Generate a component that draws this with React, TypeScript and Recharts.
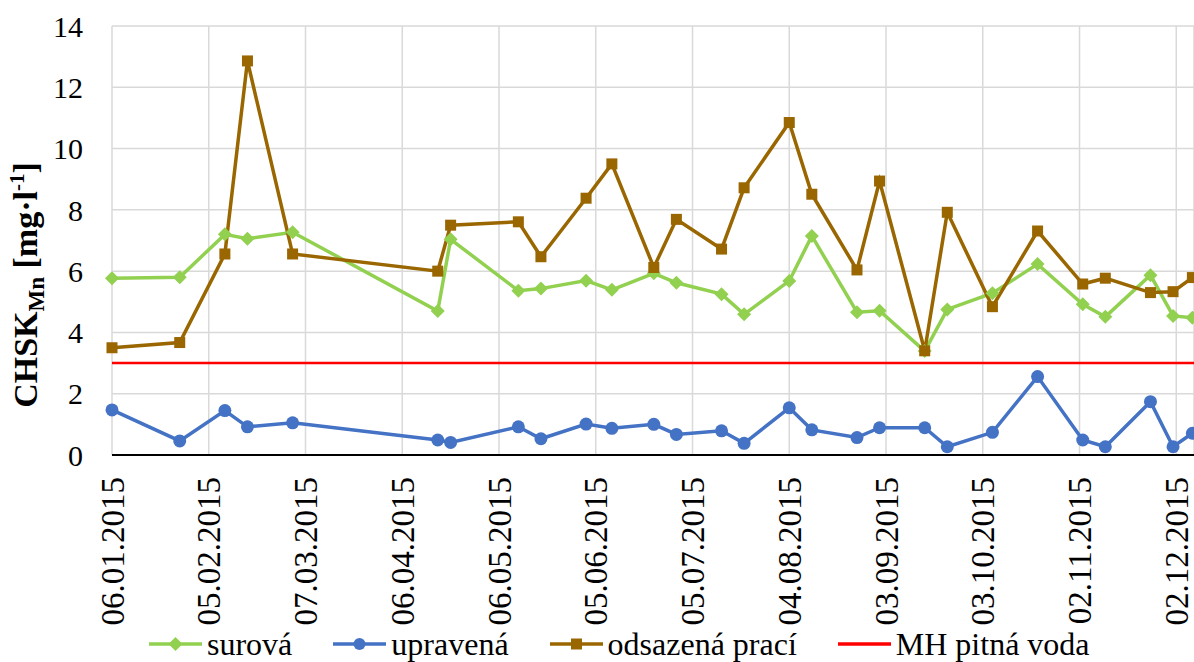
import { LineChart, Line, XAxis, YAxis, CartesianGrid, ReferenceLine, Legend } from 'recharts'

// data, CHSK_Mn in mg/l
const sampleDates = [
  '06.01.2015', '27.01.2015', '10.02.2015', '17.02.2015', '03.03.2015', '17.04.2015', '21.04.2015',
  '12.05.2015', '19.05.2015', '02.06.2015', '10.06.2015', '23.06.2015', '30.06.2015', '14.07.2015',
  '21.07.2015', '04.08.2015', '11.08.2015', '25.08.2015', '01.09.2015', '15.09.2015', '22.09.2015',
  '06.10.2015', '20.10.2015', '03.11.2015', '10.11.2015', '24.11.2015', '01.12.2015', '07.12.2015',
]
const surova = [
  5.77, 5.8, 7.2, 7.06, 7.27, 4.7, 7.04, 5.36, 5.43, 5.69, 5.39, 5.93, 5.62, 5.25,
  4.59, 5.68, 7.15, 4.66, 4.71, 3.39, 4.75, 5.28, 6.23, 4.92, 4.51, 5.87, 4.54, 4.48,
]
const upravena = [
  1.47, 0.46, 1.45, 0.92, 1.05, 0.49, 0.41, 0.92, 0.53, 1.01, 0.87, 1.0, 0.67, 0.79,
  0.38, 1.54, 0.82, 0.57, 0.89, 0.89, 0.27, 0.74, 2.56, 0.49, 0.27, 1.74, 0.27, 0.71,
]
const odsazena = [
  3.5, 3.67, 6.56, 12.86, 6.56, 6.0, 7.5, 7.61, 6.47, 8.38, 9.5, 6.12, 7.69, 6.72,
  8.72, 10.85, 8.51, 6.04, 8.94, 3.4, 7.92, 4.84, 7.31, 5.58, 5.77, 5.3, 5.33, 5.79,
]
const MH_LIMIT = 3

const tickLabels = [
  '06.01.2015', '05.02.2015', '07.03.2015', '06.04.2015', '06.05.2015', '05.06.2015',
  '05.07.2015', '04.08.2015', '03.09.2015', '03.10.2015', '02.11.2015', '02.12.2015',
]
const yTicks = [0, 2, 4, 6, 8, 10, 12, 14]

const GREEN = '#92D050'
const BLUE = '#4472C4'
const BROWN = '#996600'
const RED = '#FF0000'
const FONT = '"Liberation Serif", "Times New Roman", serif'

// days since 06.01.2015
function toDay(s: string): number {
  const [d, m, y] = s.split('.').map(Number)
  return (Date.UTC(y, m - 1, d) - Date.UTC(2015, 0, 6)) / 86400000
}

const xTicks = tickLabels.map(toDay)

const data = sampleDates.map((date, i) => ({
  day: toDay(date),
  surova: surova[i],
  upravena: upravena[i],
  odsazena: odsazena[i],
}))

const Diamond = ({ cx, cy, key }: any) => (
  <polygon key={key} points={`${cx},${cy - 7} ${cx + 7},${cy} ${cx},${cy + 7} ${cx - 7},${cy}`} fill={GREEN} />
)
const Square = ({ cx, cy, key }: any) => (
  <rect key={key} x={cx - 5.5} y={cy - 5.5} width={11} height={11} fill={BROWN} />
)
const Circle = ({ cx, cy, key }: any) => <circle key={key} cx={cx} cy={cy} r={6.5} fill={BLUE} />

function DateTick({ x, y, payload }: any) {
  const idx = xTicks.indexOf(payload.value)
  return (
    <text
      x={x}
      y={y}
      dy="0.35em"
      transform={`rotate(-90, ${x}, ${y})`}
      textAnchor="end"
      fontFamily={FONT}
      fontSize={33}
      fill="#000"
    >
      {idx >= 0 ? tickLabels[idx] : ''}
    </text>
  )
}

function YTitle() {
  return (
    <text
      x={37}
      y={285}
      transform="rotate(-90, 37, 285)"
      textAnchor="middle"
      fontFamily={FONT}
      fontWeight="bold"
      fontSize={34}
      fill="#000"
    >
      CHSK
      <tspan dy={7} fontSize={23}>Mn</tspan>
      <tspan dy={-7}> [mg·l</tspan>
      <tspan dy={-13} fontSize={21}>-1</tspan>
      <tspan dy={13}>]</tspan>
    </text>
  )
}

function LegendIcon({ color, marker }: { color: string; marker?: string }) {
  return (
    <svg width={53} height={16} style={{ marginRight: 5 }}>
      <line x1={0} y1={8} x2={53} y2={8} stroke={color} strokeWidth={3.5} />
      {marker === 'diamond' && <polygon points="26.5,1 33.5,8 26.5,15 19.5,8" fill={color} />}
      {marker === 'circle' && <circle cx={26.5} cy={8} r={6} fill={color} />}
      {marker === 'square' && <rect x={21} y={2.5} width={11} height={11} fill={color} />}
    </svg>
  )
}

const legendItems = [
  { label: 'surová', color: GREEN, marker: 'diamond' },
  { label: 'upravená', color: BLUE, marker: 'circle' },
  { label: 'odsazená prací', color: BROWN, marker: 'square' },
  { label: 'MH pitná voda', color: RED },
]

function ChartLegend() {
  return (
    <div
      style={{
        display: 'flex',
        alignItems: 'center',
        height: 36,
        paddingLeft: 149,
        paddingTop: 8,
        fontFamily: FONT,
        fontSize: 32,
        lineHeight: '36px',
        color: '#000',
      }}
    >
      {legendItems.map((it) => (
        <div key={it.label} style={{ display: 'flex', alignItems: 'center', marginRight: 41 }}>
          <LegendIcon color={it.color} marker={it.marker} />
          <span>{it.label}</span>
        </div>
      ))}
    </div>
  )
}

export default function App() {
  return (
    <div style={{ position: 'absolute', left: 0, top: 0, width: 1194, height: 662, overflow: 'hidden', background: '#fff' }}>
      <LineChart width={1194} height={662} data={data} margin={{ top: 26, right: 0, bottom: 0, left: 0 }}>
        <CartesianGrid stroke="#D9D9D9" strokeWidth={1.5} />
        <XAxis
          dataKey="day"
          type="number"
          domain={[0, 335.5]}
          ticks={xTicks}
          interval={0}
          tick={<DateTick />}
          tickLine={false}
          tickSize={0}
          tickMargin={22}
          axisLine={{ stroke: '#000', strokeWidth: 2 }}
          height={163}
        />
        <YAxis
          domain={[0, 14]}
          ticks={yTicks}
          interval={0}
          width={112}
          axisLine={false}
          tickLine={false}
          tickSize={0}
          tickMargin={29}
          tick={{ fill: '#000', fontSize: 30, fontFamily: FONT }}
          label={<YTitle />}
        />
        <Legend verticalAlign="bottom" height={44} content={<ChartLegend />} wrapperStyle={{ left: 0, width: 1194 }} />
        <ReferenceLine y={MH_LIMIT} stroke={RED} strokeWidth={2.5} />
        <Line dataKey="surova" stroke={GREEN} strokeWidth={3.5} dot={Diamond} activeDot={false} isAnimationActive={false} />
        <Line dataKey="upravena" stroke={BLUE} strokeWidth={3.5} dot={Circle} activeDot={false} isAnimationActive={false} />
        <Line dataKey="odsazena" stroke={BROWN} strokeWidth={3.5} dot={Square} activeDot={false} isAnimationActive={false} />
      </LineChart>
    </div>
  )
}
